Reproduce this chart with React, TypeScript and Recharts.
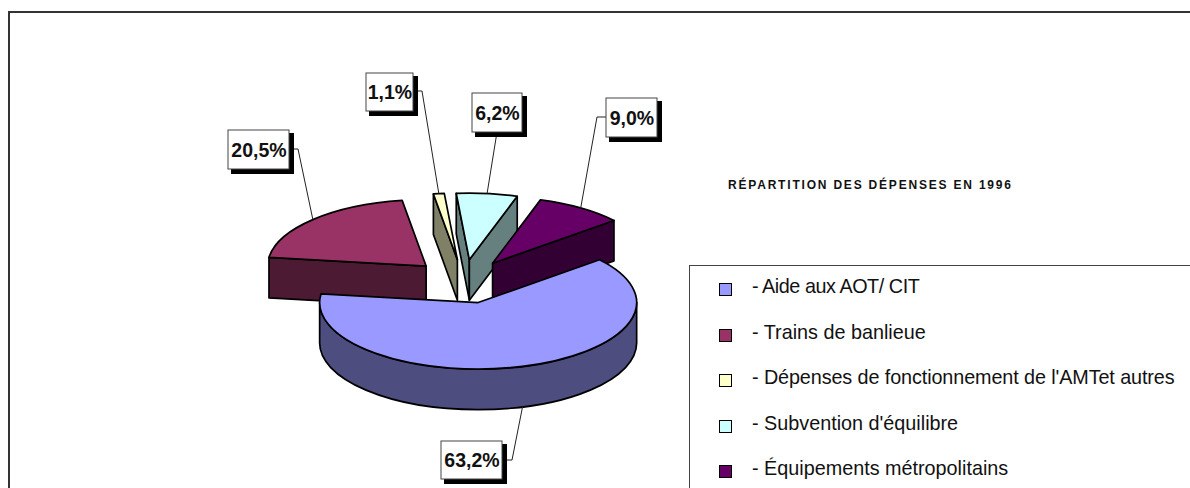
import React from 'react';
import { PieChart, Pie, Legend } from 'recharts';

const categories = [
  '- Aide aux AOT/ CIT',
  '- Trains de banlieue',
  "- Dépenses de fonctionnement de l'AMTet autres",
  "- Subvention d'équilibre",
  '- Équipements métropolitains',
];
const values = [63.2, 20.5, 1.1, 6.2, 9.0];
const colors = ['#9999FF', '#993366', '#FFFFCC', '#CCFFFF', '#660066'];
const title = 'RÉPARTITION DES DÉPENSES EN 1996';

// The large slice is painted last so that it sits in front of the others.
const paintOrder = [1, 2, 3, 4, 0];
const pieData = paintOrder.map((i) => ({ name: categories[i], value: values[i], fill: colors[i] }));

// Layout of the callouts, in the order of `categories`.
const callouts = [
  { x: 441, y: 441, w: 61, h: 38, leader: [[502, 460], [512, 460]] },
  { x: 228, y: 130, w: 61, h: 39, leader: [[289, 149], [298, 149]] },
  { x: 366, y: 73, w: 47, h: 38, leader: [[413, 91], [422, 91]] },
  { x: 472, y: 93, w: 50, h: 39, leader: [[497, 132]] },
  { x: 606, y: 98, w: 51, h: 39, leader: [[606, 117], [597, 117]] },
];
const legendTracking = [-0.45, 0, -0.1, 0, 0];

const FONT = '"Liberation Sans", Arial, sans-serif';
const SQUASH = 66.5 / 158.5;
const EXPLODE = 0.33;
const DEPTH = 40.5;
const RAD = Math.PI / 180;

const darker = (hex: string) => {
  const n = parseInt(hex.slice(1), 16);
  const half = (v: number) => Math.round(v / 2).toString(16).padStart(2, '0');
  return `#${half((n >> 16) & 255)}${half((n >> 8) & 255)}${half(n & 255)}`;
};

const SliceShape = (props: any) => {
  const { cx, cy, outerRadius: R, startAngle: s, endAngle: e, fill } = props;
  const mid = (s + e) / 2;
  const ox = cx + EXPLODE * R * Math.cos(mid * RAD);
  const oy = cy - EXPLODE * R * SQUASH * Math.sin(mid * RAD);
  const ry = R * SQUASH;
  const pt = (a: number, dz = 0) => [ox + R * Math.cos(a * RAD), oy - ry * Math.sin(a * RAD) + dz];
  const P = (p: number[]) => `${p[0].toFixed(2)} ${p[1].toFixed(2)}`;
  const arc = (to: number[], from: number, till: number, sweep: number) =>
    `A ${R} ${ry} 0 ${Math.abs(from - till) > 180 ? 1 : 0} ${sweep} ${P(to)}`;
  const side = darker(fill);
  const common = { stroke: '#000', strokeWidth: 1.7, strokeLinejoin: 'round' as const };
  const faces: string[] = [];
  const cutFace = (a: number) => {
    const t = pt(a);
    faces.push(`M ${ox} ${oy} L ${P(t)} L ${P(pt(a, DEPTH))} L ${ox} ${oy + DEPTH} Z`);
  };
  if (Math.cos(s * RAD) < 0) cutFace(s);
  if (Math.cos(e * RAD) > 0) cutFace(e);
  for (const [lo0, hi0] of [[-540, -360], [-180, 0], [180, 360]]) {
    const lo = Math.max(lo0, e);
    const hi = Math.min(hi0, s);
    if (hi > lo) {
      faces.push(
        `M ${P(pt(hi))} ${arc(pt(lo), hi, lo, 1)} L ${P(pt(lo, DEPTH))} ${arc(pt(hi, DEPTH), hi, lo, 0)} Z`,
      );
    }
  }
  return (
    <g>
      {faces.map((d, i) => (
        <path key={i} d={d} fill={side} {...common} />
      ))}
      <path d={`M ${ox} ${oy} L ${P(pt(s))} ${arc(pt(e), s, e, 1)} Z`} fill={fill} {...common} />
    </g>
  );
};

const Callout = (props: any) => {
  const { cx, cy, midAngle, outerRadius: R, index, value } = props;
  const box = callouts[paintOrder[index]];
  const c = Math.cos(midAngle * RAD);
  const sn = Math.sin(midAngle * RAD);
  const endX = cx + (1 + EXPLODE) * R * c;
  const endY = cy - (1 + EXPLODE) * R * SQUASH * sn + (sn < 0 ? DEPTH : 0);
  const line = [...box.leader, [endX, endY]].map((p) => p.join(',')).join(' ');
  const { x, y, w, h } = box;
  const text = `${Number(value).toFixed(1).replace('.', ',')}%`;
  return (
    <g>
      <polyline points={line} fill="none" stroke="#222" strokeWidth={1} />
      <rect x={x + 3} y={y + 3} width={w + 2} height={h + 2} fill="#000" />
      <rect x={x} y={y} width={w} height={h} fill="#fff" stroke="#444" strokeWidth={1} />
      <text
        x={x + w / 2 + 0.5}
        y={y + h / 2}
        textAnchor="middle"
        dominantBaseline="central"
        fontFamily={FONT}
        fontWeight="bold"
        fontSize={19.5}
        fill="#111"
      >
        {text}
      </text>
    </g>
  );
};

const LegendBox = () => (
  <div style={{ width: 501, height: 223, borderLeft: '1px solid #444', borderTop: '1px solid #444', background: '#fff', position: 'relative', boxSizing: 'border-box' }}>
    {categories.map((name, i) => (
      <div key={name} style={{ position: 'absolute', left: 0, top: 23 + i * 45.5 - 12, height: 24, whiteSpace: 'nowrap' }}>
        <span style={{ position: 'absolute', left: 29, top: 6, width: 11, height: 11, background: colors[i], border: '1px solid #000', display: 'block' }} />
        <span style={{ position: 'absolute', left: 62, top: -2, fontFamily: FONT, fontSize: 19.8, letterSpacing: legendTracking[i], lineHeight: '22px', color: '#111' }}>{name}</span>
      </div>
    ))}
  </div>
);

export default function App() {
  return (
    <div style={{ position: 'fixed', left: 0, top: 0, width: 1190, height: 488, overflow: 'hidden', background: '#fff' }}>
      <div style={{ position: 'absolute', left: 8, top: 11, right: 0, bottom: 0, borderLeft: '2px solid #333', borderTop: '2px solid #333' }} />
      <div style={{ position: 'absolute', left: 0, top: 0 }}>
        <PieChart width={1190} height={488} margin={{ top: 0, right: 0, bottom: 0, left: 0 }}>
          <Pie
            data={pieData}
            dataKey="value"
            nameKey="name"
            cx={463.5}
            cy={281.5}
            innerRadius={0}
            outerRadius={158.5}
            startAngle={172.5}
            endAngle={-187.5}
            isAnimationActive={false}
            shape={SliceShape}
            label={Callout}
            labelLine={false}
          />
          <text x={728} y={188.5} fontFamily={FONT} fontWeight="bold" fontSize={12} letterSpacing={1.8} fill="#111">
            {title}
          </text>
          <Legend
            content={LegendBox}
            wrapperStyle={{ position: 'absolute', left: 689, top: 265, width: 501, height: 223, bottom: 'auto' }}
          />
        </PieChart>
      </div>
    </div>
  );
}
